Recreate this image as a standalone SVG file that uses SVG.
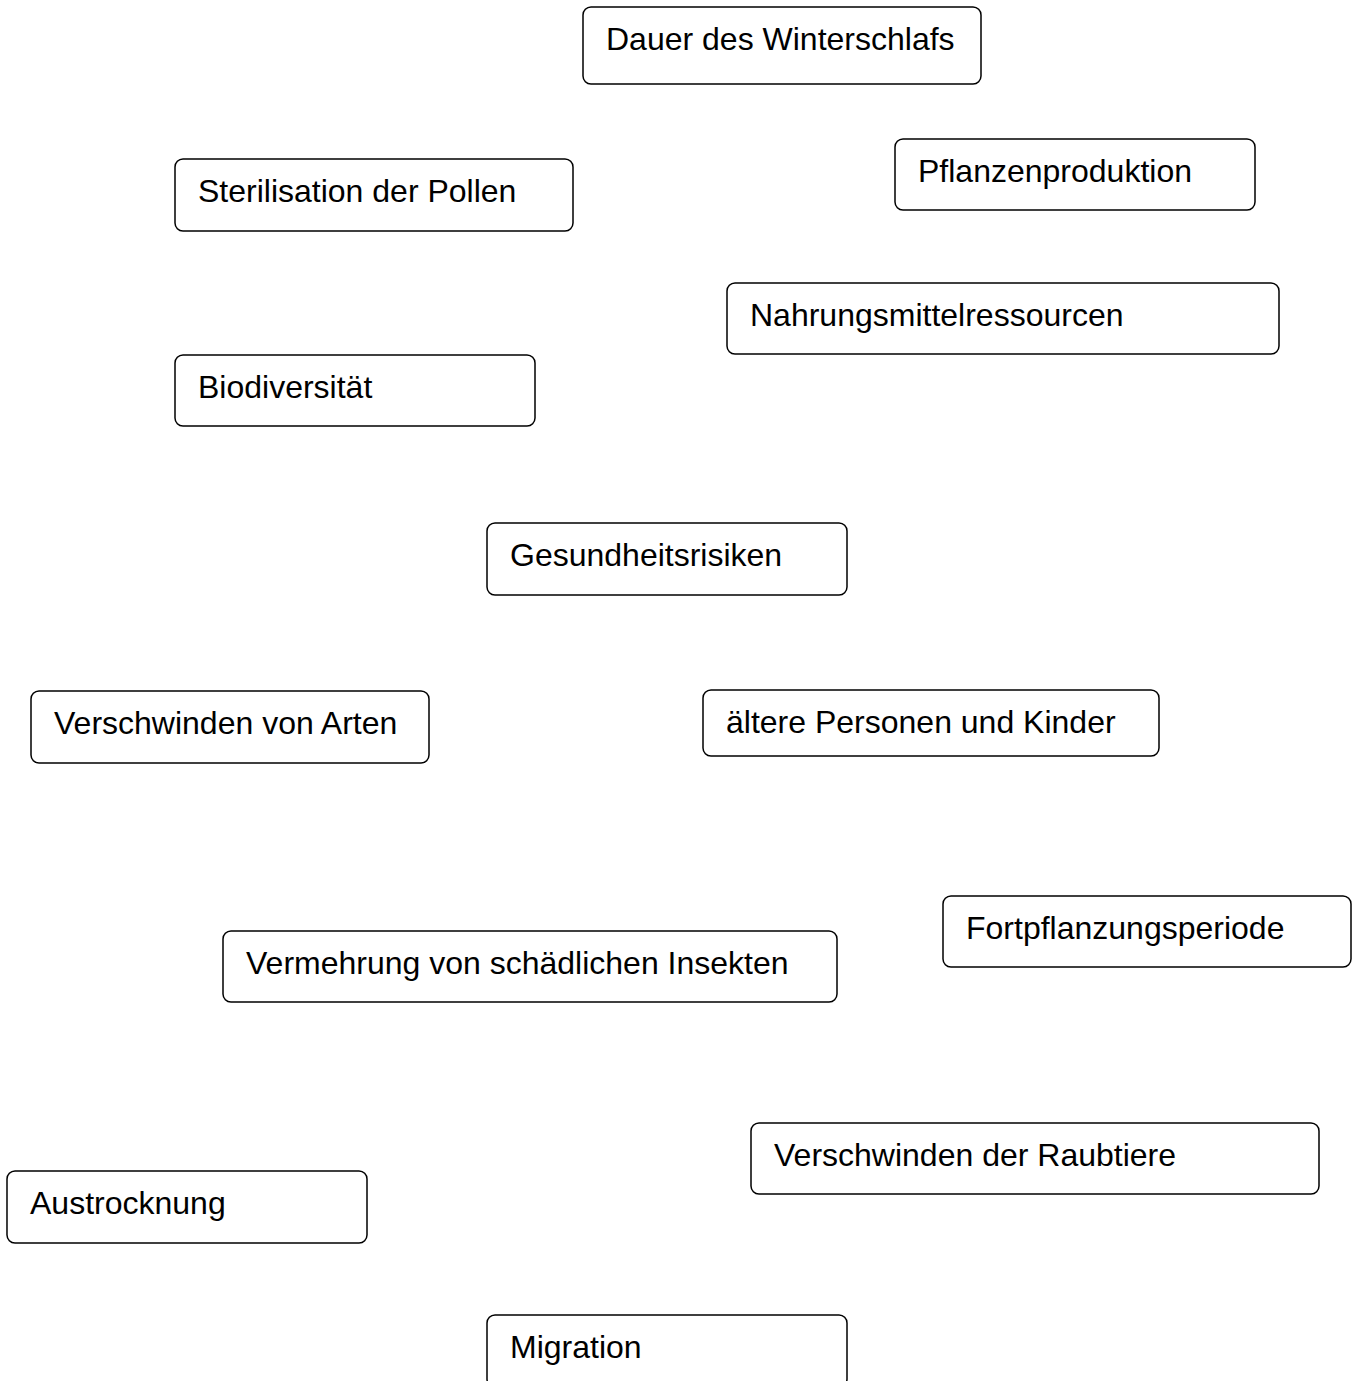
<svg xmlns="http://www.w3.org/2000/svg" width="1358" height="1381" viewBox="0 0 1358 1381">
<style>
.b{fill:#fff;stroke:#000;stroke-width:1.5}
.t{font-family:"Liberation Sans",Arial,sans-serif;font-size:32px;fill:#000}
</style>
<rect width="1358" height="1381" fill="#fff"/>
<g id="connectors"/>
<g id="n1"><rect class="b" x="583" y="7" width="398" height="77" rx="8"/><text class="t" x="606" y="50">Dauer des Winterschlafs</text></g>
<g id="n2"><rect class="b" x="895" y="139" width="360" height="71" rx="8"/><text class="t" x="918" y="182">Pflanzenproduktion</text></g>
<g id="n3"><rect class="b" x="175" y="159" width="398" height="72" rx="8"/><text class="t" x="198" y="202">Sterilisation der Pollen</text></g>
<g id="n4"><rect class="b" x="727" y="283" width="552" height="71" rx="8"/><text class="t" x="750" y="326">Nahrungsmittelressourcen</text></g>
<g id="n5"><rect class="b" x="175" y="355" width="360" height="71" rx="8"/><text class="t" x="198" y="398">Biodiversität</text></g>
<g id="n6"><rect class="b" x="487" y="523" width="360" height="72" rx="8"/><text class="t" x="510" y="566">Gesundheitsrisiken</text></g>
<g id="n7"><rect class="b" x="31" y="691" width="398" height="72" rx="8"/><text class="t" x="54" y="734">Verschwinden von Arten</text></g>
<g id="n8"><rect class="b" x="703" y="690" width="456" height="66" rx="8"/><text class="t" x="726" y="733">ältere Personen und Kinder</text></g>
<g id="n9"><rect class="b" x="943" y="896" width="408" height="71" rx="8"/><text class="t" x="966" y="939">Fortpflanzungsperiode</text></g>
<g id="n10"><rect class="b" x="223" y="931" width="614" height="71" rx="8"/><text class="t" x="246" y="974">Vermehrung von schädlichen Insekten</text></g>
<g id="n11"><rect class="b" x="751" y="1123" width="568" height="71" rx="8"/><text class="t" x="774" y="1166">Verschwinden der Raubtiere</text></g>
<g id="n12"><rect class="b" x="7" y="1171" width="360" height="72" rx="8"/><text class="t" x="30" y="1214">Austrocknung</text></g>
<g id="n13"><rect class="b" x="487" y="1315" width="360" height="72" rx="8"/><text class="t" x="510" y="1358">Migration</text></g>
</svg>
